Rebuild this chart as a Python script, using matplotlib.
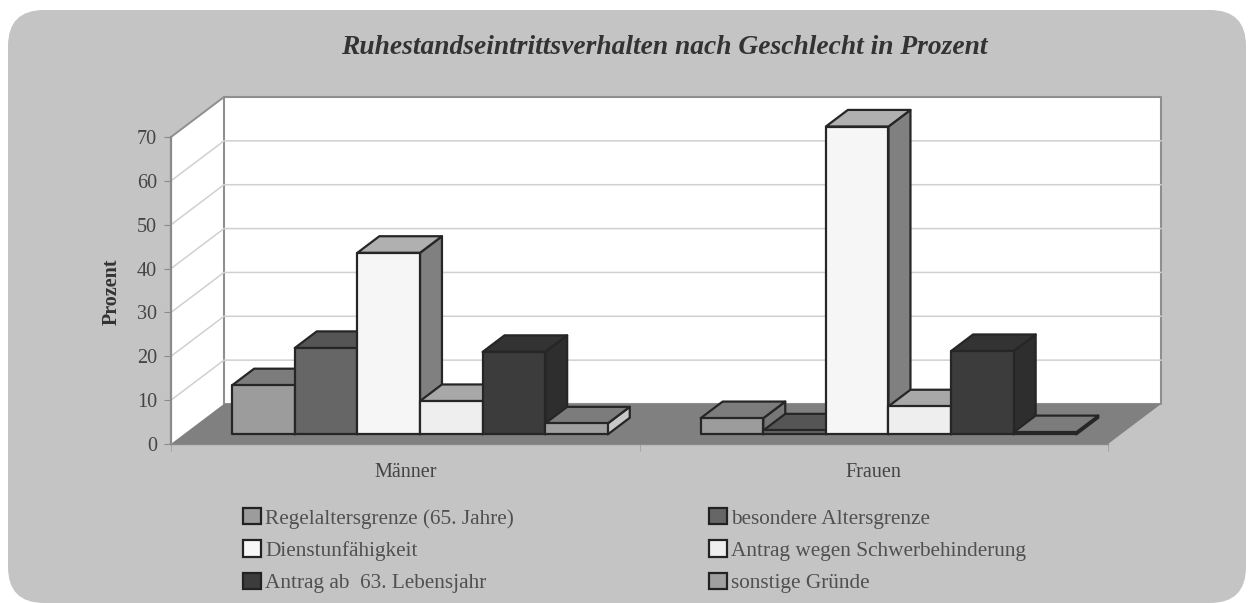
import matplotlib
matplotlib.use("Agg")
import matplotlib.pyplot as plt
from matplotlib.patches import FancyBboxPatch, Polygon, Patch

categories = ["Männer", "Frauen"]
series = ["Regelaltersgrenze (65. Jahre)", "besondere Altersgrenze", "Dienstunfähigkeit",
          "Antrag wegen Schwerbehinderung", "Antrag ab  63. Lebensjahr", "sonstige Gründe"]
maenner = [11.2, 19.7, 41.4, 7.6, 18.8, 2.5]
frauen = [3.7, 0.9, 70.2, 6.4, 19.0, 0.5]
yticks = [0, 10, 20, 30, 40, 50, 60, 70]

front_c = ["#9c9c9c", "#666666", "#f6f6f6", "#eeeeee", "#3c3c3c", "#a0a0a0"]
top_c = ["#7c7c7c", "#555555", "#b0b0b0", "#a8a8a8", "#333333", "#7c7c7c"]
side_c = ["#777777", "#555555", "#808080", "#c8c8c8", "#2e2e2e", "#c8c8c8"]

W, H = 1254, 603
BG = "#c4c4c4"
fig = plt.figure(figsize=(W / 100, H / 100), dpi=100, facecolor="white")
plt.rcParams["font.family"] = ["Liberation Serif", "DejaVu Serif"]

panel = FancyBboxPatch((8 + 36, 0 + 36), 1238 - 72, 593 - 72, boxstyle="round,pad=36,rounding_size=36",
                       transform=None, facecolor=BG, edgecolor="none", zorder=-5)
fig.add_artist(panel)

# axes: front plane of the 3-D box
L, R, T, B = 171, 1108, 137, 444
ax = fig.add_axes([L / W, 1 - B / H, (R - L) / W, (B - T) / H])
ax.set_xlim(-0.5, 1.5)
ax.set_ylim(0, 70)
ax.patch.set_visible(False)
for s in ["top", "right"]:
    ax.spines[s].set_visible(False)
for s in ["left", "bottom"]:
    ax.spines[s].set_color("#8a8a8a")
    ax.spines[s].set_linewidth(1.6 if s == "left" else 1.0)

cat_w = (R - L) / 2
unit = (B - T) / 70
DX = 53 / cat_w   # full depth in x units
DY = 40 / unit    # full depth in y units


def pts(x, v, d):
    return (x + d * DX, v + d * DY)


def poly(p, fc, ec="none", lw=0, z=1):
    ax.add_patch(Polygon(p, closed=True, facecolor=fc, edgecolor=ec, linewidth=lw,
                         zorder=z, clip_on=False, joinstyle="round"))


# walls and floor
poly([pts(-0.5, 0, 0), pts(-0.5, 0, 1), pts(-0.5, 70, 1), pts(-0.5, 70, 0)], "white", z=0.5)
poly([pts(-0.5, 0, 1), pts(1.5, 0, 1), pts(1.5, 70, 1), pts(-0.5, 70, 1)], "white", "#8f8f8f", 1.5, z=0.6)
for y in yticks[1:-1]:
    ax.plot(*zip(pts(-0.5, y, 0), pts(-0.5, y, 1), pts(1.5, y, 1)), color="#d0d0d0", lw=1.1, zorder=0.7,
            clip_on=False)
ax.plot(*zip(pts(-0.5, 70, 0), pts(-0.5, 70, 1)), color="#8f8f8f", lw=1.4, zorder=0.7, clip_on=False)
poly([pts(-0.5, 0, 0), pts(1.5, 0, 0), pts(1.5, 0, 1), pts(-0.5, 0, 1)], "#808080", z=0.8)

# bars
n = len(series)
bar_w = 62.6 / cat_w
D0, D1 = 0.24, 0.655
SHIFT = 2.0 / cat_w
for ci, vals in enumerate([maenner, frauen]):
    for i, v in enumerate(vals):
        x0 = ci + SHIFT + (i - n / 2) * bar_w
        x1 = x0 + bar_w
        z = 2 + i * 0.1 + ci
        kw = dict(ec="#262626", lw=1.6, z=z)
        poly([pts(x1, 0, D0), pts(x1, 0, D1), pts(x1, v, D1), pts(x1, v, D0)], side_c[i], **kw)
        poly([pts(x0, v, D0), pts(x1, v, D0), pts(x1, v, D1), pts(x0, v, D1)], top_c[i], **kw)
        poly([pts(x0, 0, D0), pts(x1, 0, D0), pts(x1, v, D0), pts(x0, v, D0)], front_c[i], **kw)

ax.set_yticks(yticks)
ax.tick_params(axis="y", length=5, color="#8a8a8a", labelsize=14.5, labelcolor="#444444", pad=5)
ax.set_xticks([0, 1], categories)
ax.set_xticks([-0.5, 0.5, 1.5], minor=True)
ax.tick_params(axis="x", which="major", length=0, labelsize=14.5, labelcolor="#444444", pad=14)
ax.tick_params(axis="x", which="minor", length=5, color="#a0a0a0")
ax.set_ylabel("Prozent", fontsize=14.5, fontweight="bold", color="#333333", labelpad=0)
ax.yaxis.set_label_coords((122 - L) / (R - L), (B - 292) / (B - T))

fig.text(664 / W, 1 - 47 / H, "Ruhestandseintrittsverhalten nach Geschlecht in Prozent", ha="center", va="center",
         fontsize=19.8, fontweight="bold", fontstyle="italic", color="#333333")

# legend: column-first fill, so reorder for row-wise reading
order = [0, 2, 4, 1, 3, 5]
handles = [Patch(facecolor=front_c[i], edgecolor="#222222", linewidth=1.6, label=series[i]) for i in order]
leg = fig.legend(handles=handles, ncols=2, frameon=False, loc="upper left",
                 bbox_to_anchor=(243 / W, 1 - 508 / H), bbox_transform=fig.transFigure,
                 fontsize=15.3, labelcolor="#505050", handlelength=0.85, handleheight=0.8,
                 handletextpad=0.2, labelspacing=0.56, columnspacing=9.15, borderpad=0, borderaxespad=0)

fig.savefig("out.png", dpi=100, facecolor="white")
